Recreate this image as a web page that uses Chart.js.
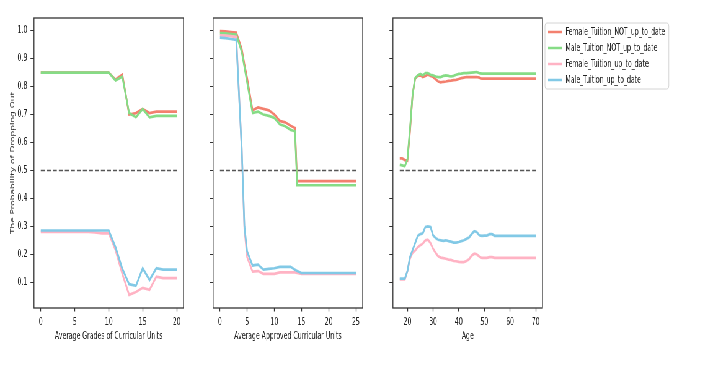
<!DOCTYPE html>
<html>
<head>
<meta charset="utf-8">
<script src="https://cdn.jsdelivr.net/npm/chart.js@4"></script>
<style>
  html, body { margin: 0; padding: 0; background: #fff; overflow: hidden; }
  /* the original figure is squeezed horizontally, so draw wide and squeeze */
  #stage { position: relative; width: 1137px; height: 369px; transform: scaleX(0.62); transform-origin: 0 0; }
  #stage canvas { position: absolute; }
</style>
</head>
<body>
<div id="stage">
  <canvas id="grades"></canvas>
  <canvas id="approved"></canvas>
  <canvas id="age"></canvas>
  <canvas id="legend"></canvas>
</div>
<script>
const seriesNames = [
  "Female_Tuition_NOT_up_to_date",
  "Male_Tuition_NOT_up_to_date",
  "Female_Tuition_up_to_date",
  "Male_Tuition_up_to_date",
];
const seriesColors = ["#f3806f", "#86dc86", "#ffb3c4", "#82c9e6"];

const threshold = 0.5;
const yTicks = [0.1, 0.2, 0.3, 0.4, 0.5, 0.6, 0.7, 0.8, 0.9, 1.0];

// Average Grades of Curricular Units
const gradesX = [0, 1, 2, 3, 4, 5, 6, 7, 8, 9, 10, 11, 12, 13, 14, 15, 16, 17, 18, 19, 20];
const gradesFemaleNot = [0.85, 0.85, 0.85, 0.85, 0.85, 0.85, 0.85, 0.85, 0.85, 0.85, 0.85, 0.825, 0.843, 0.700, 0.705, 0.720, 0.705, 0.710, 0.710, 0.710, 0.710];
const gradesMaleNot = [0.85, 0.85, 0.85, 0.85, 0.85, 0.85, 0.85, 0.85, 0.85, 0.85, 0.85, 0.822, 0.835, 0.705, 0.690, 0.720, 0.690, 0.695, 0.695, 0.695, 0.695];
const gradesFemaleUp = [0.28, 0.28, 0.28, 0.28, 0.28, 0.28, 0.28, 0.28, 0.278, 0.275, 0.275, 0.215, 0.130, 0.055, 0.065, 0.080, 0.073, 0.120, 0.115, 0.115, 0.115];
const gradesMaleUp = [0.285, 0.285, 0.285, 0.285, 0.285, 0.285, 0.285, 0.285, 0.285, 0.285, 0.285, 0.225, 0.148, 0.093, 0.087, 0.150, 0.108, 0.150, 0.145, 0.145, 0.145];
const gradesTicks = [0, 5, 10, 15, 20];

// Average Approved Curricular Units
const approvedX = [0, 1, 2, 3, 4, 4.5, 5, 6, 7, 8, 9, 10, 11, 12, 13, 13.8, 14.2, 15, 16, 17, 18, 19, 20, 21, 22, 23, 24, 25];
const approvedFemaleNot = [0.998, 0.997, 0.995, 0.993, 0.935, 0.88, 0.83, 0.715, 0.725, 0.72, 0.715, 0.70, 0.677, 0.672, 0.66, 0.652, 0.462, 0.462, 0.462, 0.462, 0.462, 0.462, 0.462, 0.462, 0.462, 0.462, 0.462, 0.462];
const approvedMaleNot = [0.991, 0.99, 0.988, 0.986, 0.925, 0.87, 0.815, 0.705, 0.71, 0.70, 0.695, 0.688, 0.665, 0.658, 0.645, 0.64, 0.447, 0.447, 0.447, 0.447, 0.447, 0.447, 0.447, 0.447, 0.447, 0.447, 0.447, 0.447];
const approvedFemaleUp = [0.983, 0.982, 0.98, 0.977, 0.58, 0.29, 0.19, 0.138, 0.14, 0.13, 0.13, 0.13, 0.135, 0.135, 0.135, 0.135, 0.133, 0.13, 0.13, 0.13, 0.13, 0.13, 0.13, 0.13, 0.13, 0.13, 0.13, 0.13];
const approvedMaleUp = [0.975, 0.973, 0.97, 0.967, 0.58, 0.30, 0.21, 0.16, 0.163, 0.145, 0.148, 0.15, 0.155, 0.155, 0.155, 0.145, 0.14, 0.133, 0.133, 0.133, 0.133, 0.133, 0.133, 0.133, 0.133, 0.133, 0.133, 0.133];
const approvedTicks = [0, 5, 10, 15, 20, 25];

// Age
const ageX = [17, 18, 19, 20, 21, 22, 23, 24, 25, 26, 27, 28, 29, 30, 31, 32, 33, 34, 35, 36, 37, 38, 39, 40, 41, 42, 43, 44, 45, 46, 47, 48, 49, 50, 51, 52, 53, 54, 55, 60, 65, 70];
const ageFemaleNot = [0.543, 0.543, 0.537, 0.535, 0.64, 0.77, 0.828, 0.838, 0.84, 0.834, 0.838, 0.843, 0.838, 0.834, 0.826, 0.818, 0.815, 0.817, 0.818, 0.82, 0.821, 0.823, 0.824, 0.827, 0.83, 0.832, 0.834, 0.834, 0.834, 0.834, 0.834, 0.832, 0.828, 0.828, 0.828, 0.828, 0.828, 0.828, 0.828, 0.828, 0.828, 0.828];
const ageMaleNot = [0.52, 0.518, 0.515, 0.54, 0.65, 0.77, 0.83, 0.84, 0.845, 0.84, 0.848, 0.848, 0.842, 0.84, 0.836, 0.834, 0.834, 0.838, 0.84, 0.838, 0.836, 0.838, 0.842, 0.845, 0.846, 0.848, 0.848, 0.849, 0.85, 0.851, 0.852, 0.848, 0.846, 0.846, 0.846, 0.846, 0.846, 0.846, 0.846, 0.846, 0.846, 0.846];
const ageFemaleUp = [0.11, 0.11, 0.11, 0.14, 0.185, 0.205, 0.213, 0.225, 0.232, 0.238, 0.25, 0.252, 0.24, 0.22, 0.205, 0.193, 0.188, 0.186, 0.184, 0.181, 0.18, 0.176, 0.175, 0.173, 0.172, 0.172, 0.176, 0.182, 0.195, 0.202, 0.2, 0.192, 0.187, 0.187, 0.187, 0.19, 0.19, 0.187, 0.187, 0.187, 0.187, 0.187];
const ageMaleUp = [0.113, 0.113, 0.113, 0.14, 0.19, 0.215, 0.24, 0.265, 0.272, 0.275, 0.298, 0.30, 0.298, 0.268, 0.258, 0.252, 0.25, 0.248, 0.25, 0.247, 0.245, 0.242, 0.242, 0.244, 0.247, 0.25, 0.255, 0.26, 0.272, 0.283, 0.28, 0.268, 0.266, 0.267, 0.267, 0.272, 0.272, 0.266, 0.266, 0.266, 0.266, 0.266];
const ageTicks = [20, 30, 40, 50, 60, 70];

Chart.defaults.font.family = "DejaVu Sans";
Chart.defaults.font.size = 10;
Chart.defaults.color = "#222";

const Y_AXIS_W = 54.8;
const PLOT_W = 242;
const X_AXIS_H = 61;
const font = { family: "DejaVu Sans", size: 10 };

// matplotlib-like 5% margins, shared y
const allY = [gradesFemaleNot, gradesMaleNot, gradesFemaleUp, gradesMaleUp,
  approvedFemaleNot, approvedMaleNot, approvedFemaleUp, approvedMaleUp,
  ageFemaleNot, ageMaleNot, ageFemaleUp, ageMaleUp].flat();
const yLo = Math.min(...allY), yHi = Math.max(...allY);
const yMin = yLo - 0.05 * (yHi - yLo), yMax = yHi + 0.05 * (yHi - yLo);

const frame = {
  id: "frame",
  afterDraw(chart) {
    const { ctx, chartArea: a } = chart;
    ctx.save();
    ctx.strokeStyle = "#333";
    ctx.lineWidth = 1.3;
    ctx.strokeRect(a.left, a.top, a.right - a.left, a.bottom - a.top);
    ctx.restore();
  },
};

function panel(id, left, xs, series, xTicks, xTitle, showY) {
  const canvas = document.getElementById(id);
  canvas.width = Y_AXIS_W + PLOT_W + 8;
  canvas.height = 369;
  canvas.style.left = left + "px";
  canvas.style.top = "0px";
  const xLo = xs[0], xHi = xs[xs.length - 1];
  const pad = 0.05 * (xHi - xLo);

  const datasets = series.map((ys, i) => ({
    label: seriesNames[i],
    data: xs.map((x, j) => ({ x: x, y: ys[j] })),
    borderColor: seriesColors[i],
    borderWidth: 2.7,
    pointRadius: 0,
    tension: 0,
    order: 4 - i,
  }));
  datasets.push({
    label: "threshold",
    data: [{ x: xLo, y: threshold }, { x: xHi, y: threshold }],
    borderColor: "#555",
    borderWidth: 1.5,
    borderDash: [6.5, 3.2],
    pointRadius: 0,
    order: 0,
  });

  return new Chart(canvas, {
    type: "line",
    data: { datasets: datasets },
    options: {
      responsive: false,
      animation: false,
      devicePixelRatio: 1,
      layout: { padding: { top: 18, right: 8, bottom: 0, left: 0 } },
      plugins: { legend: { display: false }, tooltip: { enabled: false } },
      scales: {
        x: {
          type: "linear",
          min: xLo - pad,
          max: xHi + pad,
          afterBuildTicks: (s) => { s.ticks = xTicks.map((v) => ({ value: v })); },
          afterFit: (s) => { s.height = X_AXIS_H; },
          grid: { drawOnChartArea: false, tickLength: 3.5, tickWidth: 1.3, tickColor: "#333" },
          border: { display: false },
          ticks: { padding: 4.5, font: font, maxRotation: 0, autoSkip: false, callback: (v) => String(v) },
          title: { display: true, text: xTitle, font: font, padding: { top: 0, bottom: 27 } },
        },
        y: {
          type: "linear",
          min: yMin,
          max: yMax,
          afterBuildTicks: (s) => { s.ticks = yTicks.map((v) => ({ value: v })); },
          afterFit: (s) => { s.width = Y_AXIS_W; },
          grid: { drawOnChartArea: false, tickLength: 5.6, tickWidth: 1, tickColor: "#333" },
          border: { display: false },
          ticks: { display: showY, padding: 5, font: font, callback: (v) => v.toFixed(1) },
          title: {
            display: showY,
            text: "The Probability of Dropping Out",
            color: "#333",
            font: { family: "DejaVu Sans", size: 9 },
            padding: { top: 15, bottom: 0 },
          },
        },
      },
    },
    plugins: [frame],
  });
}

panel("grades", 0, gradesX,
  [gradesFemaleNot, gradesMaleNot, gradesFemaleUp, gradesMaleUp],
  gradesTicks, "Average Grades of Curricular Units", true);
panel("approved", 343.5 - Y_AXIS_W, approvedX,
  [approvedFemaleNot, approvedMaleNot, approvedFemaleUp, approvedMaleUp],
  approvedTicks, "Average Approved Curricular Units", false);
panel("age", 633.5 - Y_AXIS_W, ageX,
  [ageFemaleNot, ageMaleNot, ageFemaleUp, ageMaleUp],
  ageTicks, "Age", false);

// legend box to the right of the last panel
const legendFrame = {
  id: "legendFrame",
  beforeDraw(chart) {
    const boxes = chart.legend.legendHitBoxes;
    if (!boxes || !boxes.length) return;
    const l = Math.min(...boxes.map((b) => b.left)) - 5;
    const t = Math.min(...boxes.map((b) => b.top)) - 4;
    const r = Math.max(...boxes.map((b) => b.left + b.width)) + 6;
    const btm = Math.max(...boxes.map((b) => b.top + b.height)) + 4;
    const ctx = chart.ctx;
    ctx.save();
    ctx.fillStyle = "rgba(255,255,255,0.9)";
    ctx.strokeStyle = "#d4d4d4";
    ctx.lineWidth = 1;
    ctx.beginPath();
    if (ctx.roundRect) ctx.roundRect(l, t, r - l, btm - t, 3);
    else ctx.rect(l, t, r - l, btm - t);
    ctx.fill();
    ctx.stroke();
    ctx.restore();
  },
};

const legendCanvas = document.getElementById("legend");
legendCanvas.width = 215;
legendCanvas.height = 160;
legendCanvas.style.left = "877.9px";
legendCanvas.style.top = "21px";

new Chart(legendCanvas, {
  type: "line",
  data: {
    datasets: seriesNames.map((name, i) => ({
      label: name,
      data: [],
      borderColor: seriesColors[i],
      backgroundColor: seriesColors[i],
      borderWidth: 2.5,
    })),
  },
  options: {
    responsive: false,
    animation: false,
    devicePixelRatio: 1,
    layout: { padding: 0 },
    scales: { x: { type: "linear", display: false }, y: { display: false } },
    plugins: {
      tooltip: { enabled: false },
      legend: {
        position: "top",
        align: "start",
        labels: {
          usePointStyle: true,
          pointStyle: "line",
          pointStyleWidth: 23,
          padding: 6,
          font: font,
          color: "#222",
        },
      },
    },
  },
  plugins: [legendFrame],
});
</script>
</body>
</html>
